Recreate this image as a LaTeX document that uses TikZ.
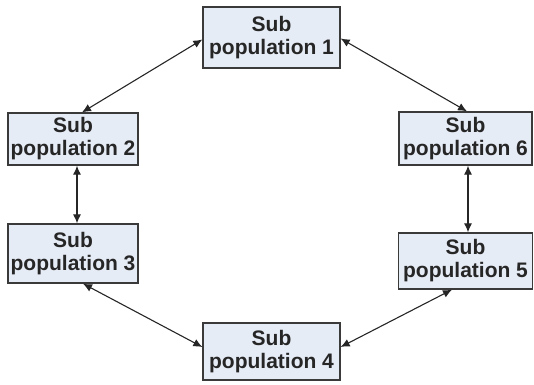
\documentclass[tikz,border=0pt]{standalone}
\usepackage{fontspec}
\setmainfont{Liberation Sans}
\usetikzlibrary{arrows.meta}
\definecolor{boxfill}{HTML}{E6ECF6}
\definecolor{boxline}{HTML}{3A3A3A}
\begin{document}
\begin{tikzpicture}[x=1pt,y=-1pt,
  pop/.style={draw=boxline, line width=1.3pt, fill=boxfill, inner sep=0pt,
    align=center, font=\fontsize{21}{23}\selectfont\bfseries, text=black!85},
  link/.style={{Latex[length=9pt,width=8pt]}-{Latex[length=9pt,width=8pt]}, line width=1.1pt, draw=black!85}]
\useasboundingbox (0,0) rectangle (534,384);
\node[pop, minimum width=137pt, minimum height=61pt] (b1) at (271.5,37.5) {Sub\\population 1};
\node[pop, minimum width=130pt, minimum height=52pt] (b2) at (73,139) {Sub\\population 2};
\node[pop, minimum width=130pt, minimum height=59pt] (b3) at (73,253.5) {Sub\\population 3};
\node[pop, minimum width=137pt, minimum height=57pt] (b4) at (271.5,351.5) {Sub\\population 4};
\node[pop, minimum width=134pt, minimum height=56pt] (b5) at (465.5,261) {Sub\\population 5};
\node[pop, minimum width=133pt, minimum height=53pt] (b6) at (465.5,138.5) {Sub\\population 6};
\draw[link] ([yshift=-2pt]b1.west) -- ([xshift=9pt]b2.north);
\draw[link] ([yshift=-1pt]b1.east) -- ([xshift=1.5pt]b6.north);
\draw[link] ([xshift=4pt]b2.south) -- ([xshift=4pt]b3.north);
\draw[link] ([xshift=2.5pt]b6.south) -- ([xshift=2.5pt]b5.north);
\draw[link] ([xshift=10pt]b3.south) -- ([yshift=4.5pt]b4.west);
\draw[link] ([yshift=4.5pt]b4.east) -- ([xshift=-13.5pt]b5.south);
\end{tikzpicture}
\end{document}
